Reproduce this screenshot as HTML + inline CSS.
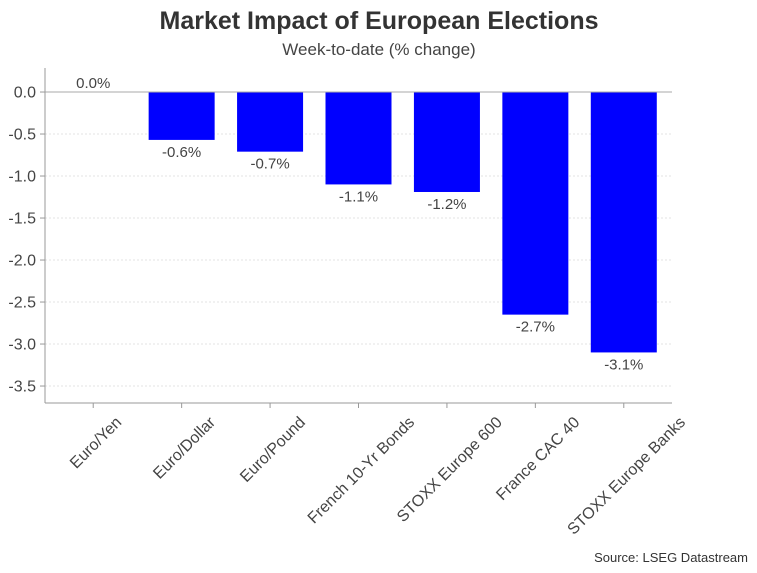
<!DOCTYPE html>
<html><head><meta charset="utf-8"><style>
body{margin:0;background:#fff;font-family:"Liberation Sans",Arial,sans-serif}
svg text{font-family:"Liberation Sans",Arial,sans-serif}
</style></head><body>
<svg id="chart" width="757" height="568" viewBox="0 0 757 568">
<text x="379" y="29" text-anchor="middle" font-size="25" font-weight="bold" fill="#333">Market Impact of European Elections</text>
<text x="379" y="55" text-anchor="middle" font-size="17" fill="#444">Week-to-date (% change)</text>
<text x="748" y="562" text-anchor="end" font-size="13" fill="#333">Source: LSEG Datastream</text>
<g id="grid"></g><g id="bars"></g><g id="axes"></g>
</svg>
<script>
const categories=["Euro/Yen","Euro/Dollar","Euro/Pound","French 10-Yr Bonds","STOXX Europe 600","France CAC 40","STOXX Europe Banks"];
const values=[0,-0.57,-0.71,-1.1,-1.19,-2.65,-3.1];
const valueLabels=["0.0%","-0.6%","-0.7%","-1.1%","-1.2%","-2.7%","-3.1%"];
const yTicks=[0,-0.5,-1,-1.5,-2,-2.5,-3,-3.5];
const NS="http://www.w3.org/2000/svg";
const L=45,R=672,T=68,B=403,yMax=0.286,yMin=-3.702;
const y=v=>T+(yMax-v)/(yMax-yMin)*(B-T);
const padL=4,padR=4;
const step=(R-L-padL-padR)/categories.length;
const x=i=>L+padL+step*(i+0.5);
function mk(tag,attrs,parent){const e=document.createElementNS(NS,tag);for(const k in attrs)e.setAttribute(k,attrs[k]);document.getElementById(parent).appendChild(e);return e;}
yTicks.forEach(t=>{
  if(t!==0){const g=mk('line',{x1:L,x2:R,y1:y(t),y2:y(t),stroke:'#e3e3e3','stroke-dasharray':'2,2'},'grid');
  
  }
  const tk=mk('line',{x1:L-5,x2:L,y1:y(t),y2:y(t),stroke:'#999'},'axes');
  
  
  const lb=mk('text',{x:L-9,y:y(t)+5.5,'text-anchor':'end','font-size':16,fill:'#444'},'axes');
  lb.textContent=t.toFixed(1);
  
  
});
values.forEach((v,i)=>{
  const bw=66,y0=y(0),y1=y(v);
  if(Math.abs(y1-y0)>0.5){
  const r=mk('rect',{x:x(i)-bw/2,y:Math.min(y0,y1),width:bw,height:Math.abs(y1-y0),fill:'#0000ff'},'bars');
  
  }
  const lt=mk('text',{x:x(i),y:(v>-0.05?y(0)-4:y1+17),'text-anchor':'middle','font-size':15,fill:'#444'},'bars');
  lt.textContent=valueLabels[i];
  
  
  const xt=mk('line',{x1:x(i),x2:x(i),y1:B,y2:B+5,stroke:'#999'},'axes');
  
  
  const cl=mk('text',{'text-anchor':'middle','dominant-baseline':'central','font-size':16,fill:'#444'},'axes');
  cl.textContent=categories[i];
  
  
  const len=cl.getComputedTextLength();
  const cx=x(i)+3, cy=B+17+len*0.3536;
  cl.setAttribute('x',cx);cl.setAttribute('y',cy);
  cl.setAttribute('transform',`rotate(-45 ${cx} ${cy})`);
});
const z=mk('line',{x1:L,x2:R,y1:y(0),y2:y(0),stroke:'#aaa'},'axes');


const ya=mk('line',{x1:L,x2:L,y1:T,y2:B,stroke:'#999'},'axes');


const xa=mk('line',{x1:L,x2:R,y1:B,y2:B,stroke:'#999'},'axes');


</script>
</body></html>
